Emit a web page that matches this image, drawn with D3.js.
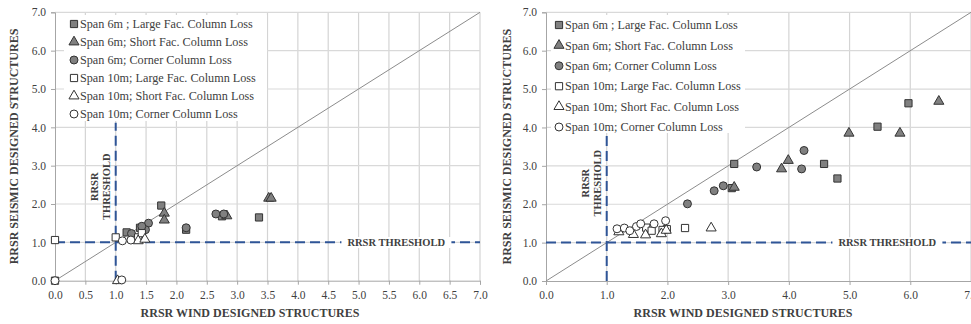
<!DOCTYPE html>
<html>
<head>
<meta charset="utf-8">
<script src="https://cdn.jsdelivr.net/npm/d3@7"></script>
<style>
  body { margin: 0; background: #fff; }
  svg { display: block; font-family: "Liberation Serif", "Times New Roman", serif; }
</style>
</head>
<body>
<svg id="chart" width="971" height="324"></svg>
<script>
// legend labels
const seriesNames = [
  "Span 6m ; Large Fac. Column Loss",
  "Span 6m; Short Fac. Column Loss",
  "Span 6m; Corner Column Loss",
  "Span 10m; Large Fac. Column Loss",
  "Span 10m; Short Fac. Column Loss",
  "Span 10m; Corner Column Loss"
];
const seriesShapes = ["square", "triangle", "circle", "square", "triangle", "circle"];
const seriesFilled = [true, true, true, false, false, false];

// left panel  [wind, seismic]
const leftLarge6 = [[1.75, 1.96], [3.36, 1.65], [1.18, 1.26], [1.40, 1.38], [2.16, 1.33], [2.75, 1.68]];
const leftShort6 = [[1.80, 1.76], [1.80, 1.58], [2.83, 1.69], [3.52, 2.15], [3.56, 2.15]];
const leftCorner6 = [[2.65, 1.74], [2.78, 1.74], [2.16, 1.38], [1.54, 1.50], [1.49, 1.33], [1.26, 1.23], [1.43, 1.42]];
const leftLarge10 = [[0, 1.06], [0, 0], [1.0, 1.13], [1.37, 1.13], [1.43, 1.24]];
const leftShort10 = [[1.03, 0], [1.37, 1.04], [1.48, 1.08]];
const leftCorner10 = [[0, 0], [1.10, 0.02], [1.11, 1.04], [1.25, 1.06]];

// right panel
const rightLarge6 = [[5.97, 4.63], [5.46, 4.02], [3.10, 3.05], [4.58, 3.05], [4.80, 2.67], [3.06, 2.42]];
const rightShort6 = [[6.47, 4.68], [4.99, 3.85], [5.83, 3.85], [3.99, 3.14], [3.88, 2.92], [3.10, 2.44]];
const rightCorner6 = [[4.25, 3.40], [4.21, 2.92], [3.47, 2.97], [2.92, 2.48], [2.77, 2.35], [2.33, 2.01]];
const rightLarge10 = [[2.29, 1.38], [1.65, 1.39], [1.74, 1.31], [1.99, 1.35], [1.92, 1.33]];
const rightShort10 = [[2.72, 1.38], [1.44, 1.21], [1.64, 1.20], [1.90, 1.23], [1.98, 1.32], [1.20, 1.28]];
const rightCorner10 = [[1.17, 1.36], [1.29, 1.38], [1.38, 1.31], [1.49, 1.42], [1.56, 1.49], [1.78, 1.49], [1.97, 1.57]];

const leftXTicks = d3.range(0, 7.01, 0.5);
const rightXTicks = d3.range(0, 7.01, 1);
const yTicks = d3.range(0, 7.01, 1);
const threshold = 1.0;

const xTitle = "RRSR WIND DESIGNED STRUCTURES";
const yTitle = "RRSR SEISMIC DESIGNED STRUCTURES";
const thresholdLabel = "RRSR THRESHOLD";

const svg = d3.select("#chart");
const fmt = d3.format(".1f");

function symbolPath(shape) {
  if (shape === "square") return d3.symbol(d3.symbolSquare, 52)();
  if (shape === "triangle") return d3.symbol(d3.symbolTriangle, 44)();
  return d3.symbol(d3.symbolCircle, 50)();
}

function drawPanel(cfg) {
  const x = d3.scaleLinear().domain([0, 7]).range(cfg.xRange);
  const y = d3.scaleLinear().domain([0, 7]).range(cfg.yRange);
  const g = svg.append("g");

  // grid
  g.append("g").selectAll("line").data(cfg.xTicks.filter(d => d > 0)).join("line")
    .attr("x1", d => x(d)).attr("x2", d => x(d))
    .attr("y1", y(0)).attr("y2", y(7))
    .attr("stroke", "#d4d4d4").attr("stroke-width", 1.2);
  g.append("g").selectAll("line").data(yTicks.filter(d => d > 0)).join("line")
    .attr("x1", x(0)).attr("x2", x(7))
    .attr("y1", d => y(d)).attr("y2", d => y(d))
    .attr("stroke", "#d9d9d9").attr("stroke-width", 1.2);

  // axes
  const xAxis = g.append("g").attr("transform", `translate(0,${y(0)})`)
    .call(d3.axisBottom(x).tickValues(cfg.xTicks).tickFormat(fmt).tickSize(4).tickPadding(6));
  const yAxis = g.append("g").attr("transform", `translate(${x(0)},0)`)
    .call(d3.axisLeft(y).tickValues(yTicks).tickFormat(fmt).tickSize(4).tickPadding(5));
  [xAxis, yAxis].forEach(a => {
    a.select(".domain").attr("stroke", "#a6a6a6");
    a.selectAll(".tick line").attr("stroke", "#a6a6a6");
    a.selectAll("text").attr("fill", "#404040")
      .style("font-family", "Liberation Serif").style("font-size", "11.5px");
  });

  // legend background
  g.append("rect")
    .attr("x", cfg.legend.x0).attr("y", cfg.legend.y0)
    .attr("width", cfg.legend.x1 - cfg.legend.x0).attr("height", cfg.legend.y1 - cfg.legend.y0)
    .attr("fill", "#fff");

  // diagonal 1:1
  g.append("line")
    .attr("x1", x(0)).attr("y1", y(0)).attr("x2", x(7)).attr("y2", y(7))
    .attr("stroke", "#8c8c8c").attr("stroke-width", 1);

  // threshold lines
  g.append("line")
    .attr("x1", x(0)).attr("x2", x(7)).attr("y1", y(threshold)).attr("y2", y(threshold))
    .attr("stroke", "#2f5597").attr("stroke-width", 2).attr("stroke-dasharray", "10,5");
  g.append("line")
    .attr("x1", x(threshold)).attr("x2", x(threshold)).attr("y1", y(0)).attr("y2", y(cfg.vTop))
    .attr("stroke", "#2f5597").attr("stroke-width", 2).attr("stroke-dasharray", "10,5");

  // horizontal threshold label
  const hl = g.append("text")
    .attr("x", x(5.62)).attr("y", y(threshold)).attr("dy", "0.35em")
    .attr("text-anchor", "middle")
    .style("font-size", "10.5px").style("font-weight", "bold").attr("fill", "#404040")
    .text(thresholdLabel);
  const bb = hl.node().getBBox();
  g.insert("rect", () => hl.node())
    .attr("x", bb.x - 6).attr("y", bb.y).attr("width", bb.width + 12).attr("height", bb.height)
    .attr("fill", "#fff");

  // vertical threshold label
  const vl = g.append("text")
    .attr("transform", `translate(${x(0.76)},${y(cfg.vLabelY)}) rotate(-90)`)
    .attr("text-anchor", "middle")
    .style("font-size", "10.5px").style("font-weight", "bold").attr("fill", "#404040");
  vl.append("tspan").attr("x", 0).attr("dy", "-0.3em").text("RRSR");
  vl.append("tspan").attr("x", 0).attr("dy", "1.15em").text("THRESHOLD");

  // points
  cfg.series.forEach((pts, i) => {
    g.append("g").selectAll("path").data(pts).join("path")
      .attr("transform", d => `translate(${x(d[0])},${y(d[1])})`)
      .attr("d", symbolPath(seriesShapes[i]))
      .attr("fill", seriesFilled[i] ? "#808080" : "#fff")
      .attr("stroke", "#333").attr("stroke-width", 1);
  });

  // axis titles
  g.append("text")
    .attr("x", cfg.xTitleX).attr("y", 317)
    .attr("text-anchor", "middle")
    .style("font-size", "12px").style("font-weight", "bold").attr("fill", "#404040")
    .text(xTitle);
  g.append("text")
    .attr("transform", `translate(${cfg.yTitleX},${(cfg.yRange[0] + cfg.yRange[1]) / 2}) rotate(-90)`)
    .attr("text-anchor", "middle")
    .style("font-size", "12px").style("font-weight", "bold").attr("fill", "#404040")
    .text(yTitle);

  // legend entries
  const lg = g.append("g").selectAll("g").data(seriesNames).join("g")
    .attr("transform", (d, i) => `translate(${cfg.legend.mx},${cfg.legend.ty + i * cfg.legend.step})`);
  lg.append("path")
    .attr("d", (d, i) => symbolPath(seriesShapes[i]))
    .attr("fill", (d, i) => seriesFilled[i] ? "#808080" : "#fff")
    .attr("stroke", "#333").attr("stroke-width", 1);
  lg.append("text")
    .attr("x", 6).attr("dy", "0.35em")
    .style("font-family", "Liberation Serif").style("font-size", "12.2px").attr("fill", "#404040")
    .text(d => d);
}

drawPanel({
  xRange: [55, 480], yRange: [280.7, 12.3], xTicks: leftXTicks,
  vTop: 4.12, vLabelY: 2.45, xTitleX: 250, yTitleX: 18,
  legend: { x0: 64, x1: 267, y0: 15, y1: 121, mx: 74, ty: 24, step: 18 },
  series: [leftLarge6, leftShort6, leftCorner6, leftLarge10, leftShort10, leftCorner10]
});

drawPanel({
  xRange: [546, 971], yRange: [281, 12.3], xTicks: rightXTicks,
  vTop: 3.8, vLabelY: 2.55, xTitleX: 743, yTitleX: 511,
  legend: { x0: 551, x1: 745, y0: 15, y1: 133, mx: 559, ty: 25, step: 20.4 },
  series: [rightLarge6, rightShort6, rightCorner6, rightLarge10, rightShort10, rightCorner10]
});
</script>
</body>
</html>
